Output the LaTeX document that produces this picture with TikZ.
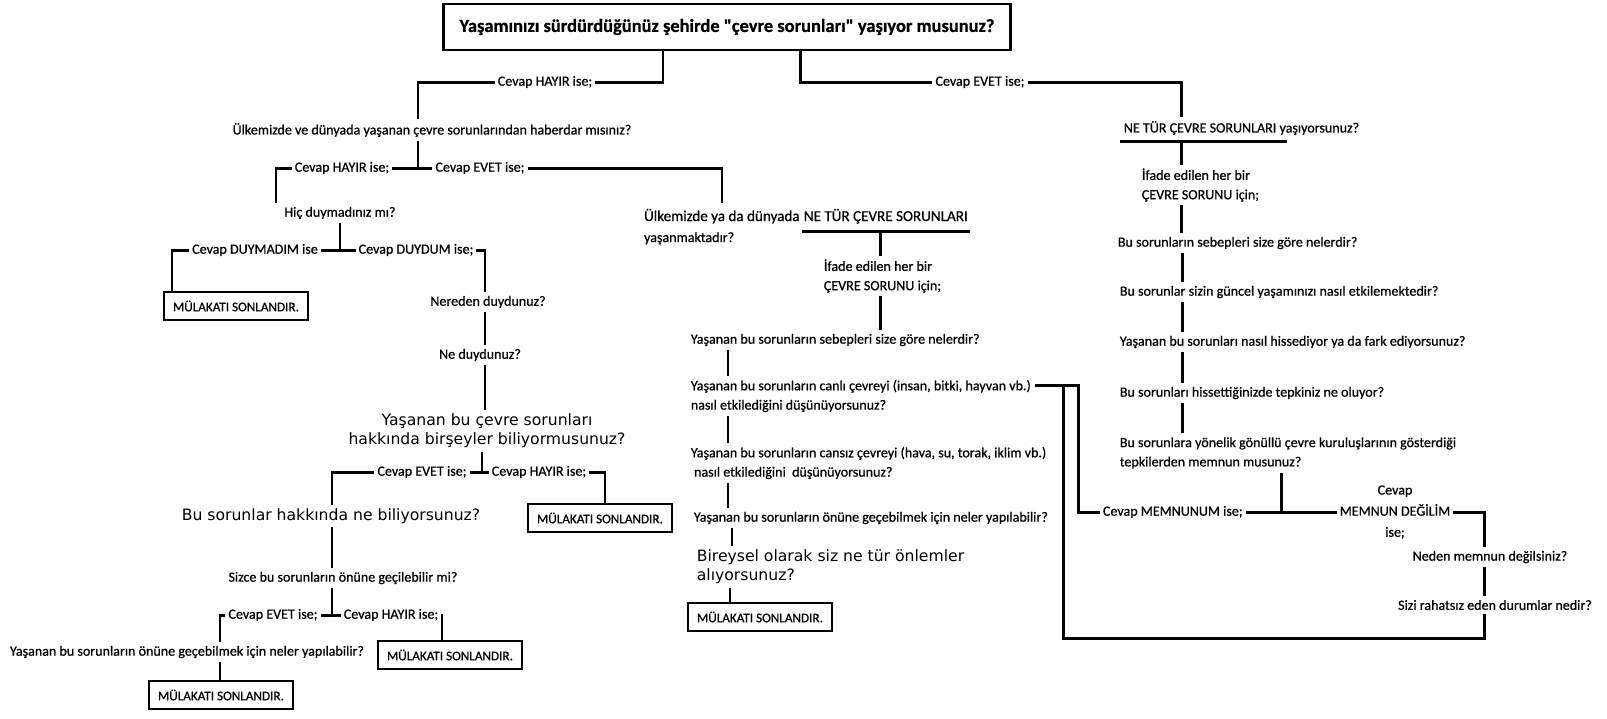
\documentclass[tikz,border=0pt]{standalone}
\usepackage{fontspec}
\setmainfont{Carlito}[RawFeature={embolden=0.7}]
\newfontfamily\verafont{DejaVu Sans}
\usetikzlibrary{positioning}

\tikzset{
	hat/.style={line width=1.7pt},
	soru/.style={font=\fontsize{8}{11}\selectfont, inner sep=2pt, align=left},
	cvp/.style={font=\fontsize{8}{11}\selectfont, inner sep=1.5pt},
	vera/.style={font=\verafont\fontsize{8.9}{10.8}\selectfont, inner sep=2pt},
	son/.style={draw, line width=1.6pt, font=\fontsize{7.5}{9}\selectfont, minimum width=2.88cm, minimum height=0.56cm, inner sep=1pt},
	baslik/.style={draw, line width=1.6pt, font=\fontsize{10.5}{12}\selectfont\bfseries, minimum width=11.34cm, minimum height=0.92cm}
}

\begin{document}
\begin{tikzpicture}[x=0.02cm, y=-0.02cm]
		\useasboundingbox (0,0) rectangle (1607,718);

		% Ana soru
		\node[baslik] (t0) at (727, 27){Yaşamınızı sürdürdüğünüz şehirde \textquotedbl çevre sorunları\textquotedbl\ yaşıyor musunuz?};
		\node[cvp] (h1) at (545, 82){Cevap HAYIR ise;};
		\node[cvp] (e1) at (980, 82){Cevap EVET ise;};

		% Cevap HAYIR
		\node[soru] (q1) at (432, 130){Ülkemizde ve dünyada yaşanan çevre sorunlarından haberdar mısınız?};
		\node[cvp] (h2) at (342, 168){Cevap HAYIR ise;};
		\node[cvp] (e2) at (480, 168){Cevap EVET ise;};
		\node[soru] (hic) at (340, 213){Hiç duymadınız mı?};
		\node[cvp] (dy1) at (255, 250){Cevap DUYMADIM ise};
		\node[cvp] (dy2) at (416, 250){Cevap DUYDUM ise;};
		\node[son] (son1) at (236, 306){MÜLAKATI SONLANDIR.};
		\node[soru] (nered) at (488, 302){Nereden duydunuz?};
		\node[soru] (ne) at (480, 355){Ne duydunuz?};
		\node[vera, align=center] (bilgi) at (487, 431){Yaşanan bu çevre sorunları\\hakkında birşeyler biliyormusunuz?};
		\node[cvp] (e3) at (422, 472){Cevap EVET ise;};
		\node[cvp] (h3) at (539, 472){Cevap HAYIR ise;};
		\node[vera] (nebil) at (331, 516){Bu sorunlar hakkında ne biliyorsunuz?};
		\node[son] (son2) at (600, 518){MÜLAKATI SONLANDIR.};
		\node[soru] (sizce) at (343, 578){Sizce bu sorunların önüne geçilebilir mi?};
		\node[cvp] (e4) at (273, 615){Cevap EVET ise;};
		\node[cvp] (h4) at (391, 615){Cevap HAYIR ise;};
		\node[soru] (onune1) at (187, 652){Yaşanan bu sorunların önüne geçebilmek için neler yapılabilir?};
		\node[son] (son4) at (450, 655){MÜLAKATI SONLANDIR.};
		\node[son] (son5) at (221, 695){MÜLAKATI SONLANDIR.};

		% Cevap EVET (orta)
		\node[soru, font=\fontsize{8.6}{11}\selectfont, inner sep=1pt, anchor=base west] (ulk1) at (642, 221){Ülkemizde ya da dünyada};
		\node[soru, font=\fontsize{8.6}{11}\selectfont, inner sep=1pt, base right=0pt of ulk1] (ntr1){NE TÜR ÇEVRE SORUNLARI};
		\node[soru, inner sep=1pt, anchor=base west] (yas1) at (642, 242){yaşanmaktadır?};
		\node[soru, anchor=west] (ifade1) at (820, 276){İfade edilen her bir\\ÇEVRE SORUNU için;};
		\node[soru, anchor=west] (sebep1) at (687, 340){Yaşanan bu sorunların sebepleri size göre nelerdir?};
		\node[soru, anchor=west] (canli) at (687, 396){Yaşanan bu sorunların canlı çevreyi (insan, bitki, hayvan vb.)\\nasıl etkilediğini düşünüyorsunuz?};
		\node[soru, anchor=west] (cansiz) at (687, 463){Yaşanan bu sorunların cansız çevreyi (hava, su, torak, iklim vb.)\\\ nasıl etkilediğini\ \ düşünüyorsunuz?};
		\node[soru, anchor=west] (onune2) at (690, 518){Yaşanan bu sorunların önüne geçebilmek için neler yapılabilir?};
		\node[vera, anchor=west, align=left] (birey) at (693, 567){Bireysel olarak siz ne tür önlemler\\alıyorsunuz?};
		\node[son] (son3) at (760, 617){MÜLAKATI SONLANDIR.};

		% Cevap EVET (sag)
		\node[soru, anchor=west] (netur2) at (1120, 128){NE TÜR ÇEVRE SORUNLARI yaşıyorsunuz?};
		\node[soru, anchor=west] (ifade2) at (1138, 185){İfade edilen her bir\\ÇEVRE SORUNU için;};
		\node[soru, anchor=west] (sebep2) at (1114, 243){Bu sorunların sebepleri size göre nelerdir?};
		\node[soru, anchor=west] (guncel) at (1116, 292){Bu sorunlar sizin güncel yaşamınızı nasıl etkilemektedir?};
		\node[soru, anchor=west] (hisset) at (1116, 342){Yaşanan bu sorunları nasıl hissediyor ya da fark ediyorsunuz?};
		\node[soru, anchor=west] (tepki) at (1116, 393){Bu sorunları hissettiğinizde tepkiniz ne oluyor?};
		\node[soru, anchor=west] (gonullu) at (1116, 453){Bu sorunlara yönelik gönüllü çevre kuruluşlarının gösterdiği\\tepkilerden memnun musunuz?};
		\node[cvp, anchor=west] (m1) at (1100, 512){Cevap MEMNUNUM ise;};
		\node[cvp, align=center, font=\fontsize{8}{12}\selectfont] (m2) at (1395, 512){Cevap\\MEMNUN DEĞİLİM\\ise;};
		\node[soru] (neden) at (1490, 557){Neden memnun değilsiniz?};
		\node[soru] (rahat) at (1495, 605){Sizi rahatsız eden durumlar nedir?};

		\coordinate (u1) at ([yshift=-2.1mm]ntr1.base west);
		\coordinate (u2) at ([yshift=-2.1mm]ntr1.base east);
		\coordinate (u3) at (1120, 141);
		\coordinate (u4) at (1287, 141);
		\coordinate (k1) at (1078, 385);
		\coordinate (k2) at (1063, 385);
		\coordinate (alt) at (1063, 638);

		\draw[hat] (t0.south -| 663,0) |- (h1.east);
		\draw[hat] (h1.west) -| (q1.north -| 418,0);
		\draw[hat] (t0.south -| 800,0) |- (e1.west);
		\draw[hat] (e1.east) -| (netur2.north -| 1181,0);

		\draw[hat] (q1.south -| 418,0) -- (h2.east -| 418,0);
		\draw[hat] (h2.east) -- (e2.west);
		\draw[hat] (h2.west) -| (hic.north -| 276,0);
		\draw[hat] (e2.east) -| ([yshift=2pt]ulk1.north -| 722,0);
		\draw[hat] (hic.south -| 340,0) -- (dy1.east -| 340,0);
		\draw[hat] (dy1.east) -- (dy2.west);
		\draw[hat] (dy1.west) -| (son1.north -| 172,0);
		\draw[hat] (dy2.east) -| (nered.north -| 485,0);
		\draw[hat] (nered.south -| 485,0) -- (ne.north -| 485,0);
		\draw[hat] (ne.south -| 485,0) -- (bilgi.north -| 485,0);
		\draw[hat] (bilgi.south -| 482,0) -- (e3.east -| 482,0);
		\draw[hat] (e3.east) -- (h3.west);
		\draw[hat] (e3.west) -| (nebil.north -| 332,0);
		\draw[hat] (h3.east) -| (son2.north -| 605,0);
		\draw[hat] (nebil.south -| 332,0) -- (sizce.north -| 332,0);
		\draw[hat] (sizce.south -| 332,0) -- (e4.east -| 332,0);
		\draw[hat] (e4.east) -- (h4.west);
		\draw[hat] (e4.west) -| (onune1.north -| 220,0);
		\draw[hat] (h4.east) -| (son4.north -| 442,0);
		\draw[hat] (onune1.south -| 220,0) -- (son5.north -| 220,0);

		\draw[hat] (u1) -- (u2);
		\draw[hat] (u1 -| 880,0) -- (ifade1.north -| 880,0);
		\draw[hat] (ifade1.south -| 880,0) -- (sebep1.north -| 880,0);
		\draw[hat] (sebep1.south -| 728,0) -- (canli.north -| 728,0);
		\draw[hat] (canli.south -| 728,0) -- (cansiz.north -| 728,0);
		\draw[hat] (cansiz.south -| 728,0) -- (onune2.north -| 728,0);
		\draw[hat] (onune2.south -| 732,0) -- (birey.north -| 732,0);
		\draw[hat] (birey.south -| 730,0) -- (son3.north -| 730,0);

		\draw[hat] (u3) -- (u4);
		\draw[hat] (u3 -| 1181,0) -- (ifade2.north -| 1181,0);
		\draw[hat] (ifade2.south -| 1181,0) -- (sebep2.north -| 1181,0);
		\draw[hat] (sebep2.south -| 1182,0) -- (guncel.north -| 1182,0);
		\draw[hat] (guncel.south -| 1182,0) -- (hisset.north -| 1182,0);
		\draw[hat] (hisset.south -| 1182,0) -- (tepki.north -| 1182,0);
		\draw[hat] (tepki.south -| 1182,0) -- (gonullu.north -| 1182,0);
		\draw[hat] (gonullu.south -| 1281,0) -- (m1.east -| 1281,0);
		\draw[hat] (m1.east) -- (m2.west);
		\draw[hat] (m2.east) -| (neden.north -| 1484,0);
		\draw[hat] (neden.south -| 1484,0) -- (rahat.north -| 1484,0);

		\draw[hat] (canli.north east |- k1) -- (k1) |- (m1.west);
		\draw[hat] (k2) -- (alt) -| (rahat.south -| 1484,0);
	\end{tikzpicture}
\end{document}
